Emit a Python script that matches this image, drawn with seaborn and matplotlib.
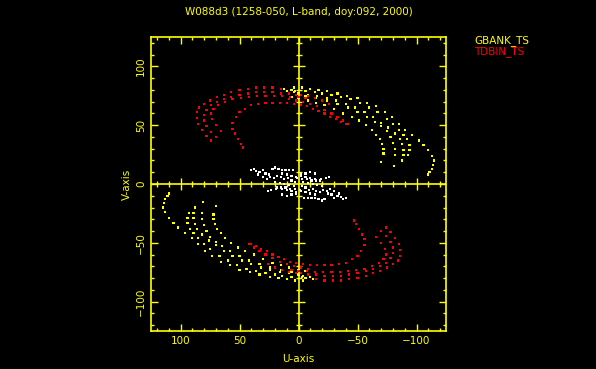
import matplotlib
matplotlib.use("Agg")
import matplotlib.pyplot as plt
from matplotlib.ticker import MultipleLocator
import numpy as np
import pandas as pd
import seaborn as sns

# UV points (upper half; the lower half is the conjugate -u, -v)
gbank_u = [4, -3, -10, -17, -24, -33, -41, -50, -58, -66, -73, -79, -85, -90, -96, -102, -106, -110, -113, -115, -114, -113, -111, -110,
           12, 6, 3, -6, -14, -20, -28, -36, -44, -52, -60, -67, -75, -80, -85, -89, -92, -94, -94, -93,
           10, 4, 0, -8, -16, -24, -32, -40, -48, -56, -63, -70, -76, -82, -86, -88, -89, -89, -88,
           8, 2, -6, -15, -24, -33, -42, -50, -58, -65, -70, -75, -78, -80, -82, -82, -81,
           6, 0, -8, -15, -22, -30, -38, -45, -51, -57, -62, -66, -69, -71, -72, -72, -70]
gbank_v = [82, 82, 81, 80, 79, 77, 75, 73, 69, 66, 61, 57, 51, 46, 42, 37, 33, 29, 24, 20, 16, 13, 10, 8,
           81, 80, 79, 79, 78, 77, 76, 74, 72, 69, 65, 61, 55, 51, 46, 42, 38, 33, 29, 25,
           79, 78, 77, 76, 75, 73, 71, 68, 65, 61, 57, 52, 48, 43, 38, 34, 29, 25, 20,
           77, 76, 75, 73, 71, 68, 65, 61, 57, 53, 49, 45, 40, 35, 30, 25, 15,
           74, 73, 71, 69, 67, 64, 60, 57, 54, 50, 46, 42, 38, 34, 30, 26, 19]

tdbin_u = [74, 78, 82, 85, 86, 86, 84, 80, 75, 69, 63, 57, 50, 43, 36, 29, 22, 15,
           70, 74, 78, 80, 80, 78, 74, 69, 63, 57, 50, 43, 36, 29, 22, 15, 8, 2,
           66, 70, 73, 74, 72, 68, 62, 56, 49, 42, 35, 28, 21, 14, 7, 0, -6,
           47, 49, 51, 54, 56, 56, 53, 50, 45, 40, 34, 28, 22, 16, 10, 4, -2, -7, -12, -17, -22, -27, -32, -36, -40,
           8, 2, -4, -10, -16, -22, -28, -33, -38, -42,
           -2, -8, -14, -20, -26]
tdbin_v = [37, 41, 46, 51, 56, 61, 65, 68, 71, 74, 76, 78, 80, 81, 82, 82, 82, 81,
           40, 44, 49, 54, 59, 63, 67, 70, 72, 74, 76, 77, 78, 78, 78, 77, 77, 76,
           45, 50, 55, 60, 64, 67, 70, 72, 73, 74, 75, 75, 75, 75, 74, 74, 73,
           31, 34, 38, 43, 47, 52, 57, 61, 64, 67, 68, 69, 69, 69, 69, 68, 67, 66, 64, 62, 60, 57, 55, 53, 51,
           72, 71, 70, 68, 66, 63, 60, 57, 54, 51,
           76, 75, 73, 71, 68]

short_u = [40, 38, 36, 33, 30, 28, 25, 22, 20, 17, 14, 11, 8, 5, 24, 21, 18, 15, 12, 9, 6, 3,
           20, 16, 12, 8, 4, 18, 14, 10, 6, 2, 27, 30, 34, 14, 10, 6, 2, -2, -6, -10, -14,
           26, 23, 19, 15, 11, 7, 3, -1]
short_v = [12, 13, 11, 10, 12, 9, 8, 13, 14, 13, 12, 12, 12, 12, 6, 5, 7, 6, 4, 5, 3, 2,
           2, 1, 0, -1, -2, -3, -4, -5, -6, -7, 4, 6, 8, 9, 8, 7, 6, 8, 9, 10, 9,
           -6, -5, -4, -3, -3, -4, -4, -5]

groups = {"short": (short_u, short_v), "GBANK_TS": (gbank_u, gbank_v), "TDBIN_TS": (tdbin_u, tdbin_v)}
frames = []
for name, (u, v) in groups.items():
    u = np.array(u, dtype=float)
    v = np.array(v, dtype=float)
    frames.append(pd.DataFrame({"u": np.concatenate([u, -u]), "v": np.concatenate([v, -v]), "baseline": name}))
df = pd.concat(frames, ignore_index=True)

yellow = "#ffff00"
red = "#ff0000"
palette = {"short": "white", "GBANK_TS": yellow, "TDBIN_TS": red}

fig = plt.figure(figsize=(5.96, 3.69), dpi=100, facecolor="black")
ax = fig.add_axes([151 / 596, 38 / 369, 295 / 596, 294 / 369])
ax.set_facecolor("black")

# crosshair through the origin
ax.axhline(0, color=yellow, lw=1.2, zorder=1)
ax.axvline(0, color=yellow, lw=1.2, zorder=1)
ticks = np.arange(-120, 121, 10)
ticks = ticks[ticks != 0]
big = ticks % 50 == 0
ax.scatter(ticks[~big], np.zeros((~big).sum()), marker="|", s=25, color=yellow, lw=1, zorder=1)
ax.scatter(ticks[big], np.zeros(big.sum()), marker="|", s=70, color=yellow, lw=1, zorder=1)
ax.scatter(np.zeros((~big).sum()), ticks[~big], marker="_", s=25, color=yellow, lw=1, zorder=1)
ax.scatter(np.zeros(big.sum()), ticks[big], marker="_", s=70, color=yellow, lw=1, zorder=1)

sns.scatterplot(data=df, x="u", y="v", hue="baseline", palette=palette, marker="s",
                s=2.5, linewidth=0, legend=False, ax=ax, zorder=3)

ax.set_xlim(125, -125)
ax.set_ylim(-125, 125)
for s in ax.spines.values():
    s.set_color(yellow)
    s.set_linewidth(1.2)
ax.xaxis.set_major_locator(MultipleLocator(50))
ax.xaxis.set_minor_locator(MultipleLocator(10))
ax.yaxis.set_major_locator(MultipleLocator(50))
ax.yaxis.set_minor_locator(MultipleLocator(10))
ax.tick_params(which="both", direction="in", colors=yellow, top=True, right=True, labelsize=7.5)
ax.tick_params(which="major", length=5, width=1)
ax.tick_params(which="minor", length=2.5, width=1)
ax.set_xticks([100, 50, 0, -50, -100])
ax.set_yticks([-100, -50, 0, 50, 100])
for lab in ax.get_yticklabels():
    lab.set_rotation(90)
    lab.set_va("center")

ax.set_xlabel("U-axis", color=yellow, fontsize=7.5, labelpad=6)
ax.set_ylabel("V-axis", color=yellow, fontsize=7.5, labelpad=3)
ax.set_title("W088d3 (1258-050, L-band, doy:092, 2000)", color=yellow, fontsize=7.5, pad=16)

fig.text(474 / 596, 1 - 41 / 369, "GBANK_TS", color=yellow, fontsize=7.5, va="center")
fig.text(474 / 596, 1 - 52 / 369, "TDBIN_TS", color=red, fontsize=7.5, va="center")

fig.savefig("out.png", dpi=100, facecolor="black")
